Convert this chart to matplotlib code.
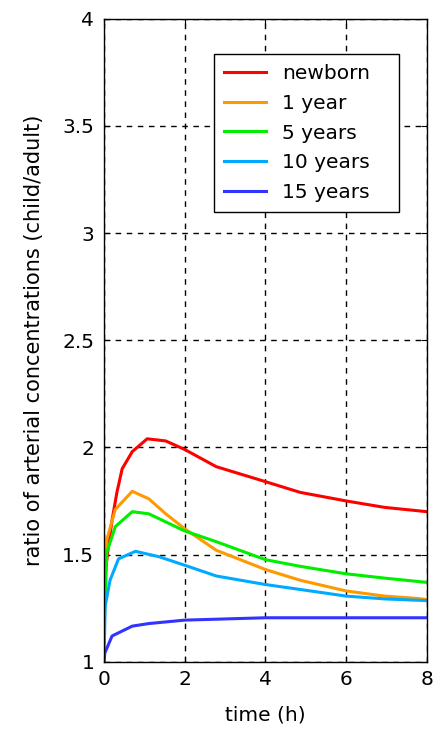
import matplotlib
matplotlib.use("Agg")
import matplotlib.pyplot as plt

plt.rcParams['font.family'] = ['DejaVu Sans']

labels = ["newborn", "1 year", "5 years", "10 years", "15 years"]
colors = ["#ff0000", "#ff9900", "#00ee00", "#00aaff", "#3333ff"]

t_newborn = [0, 0.03, 0.11, 0.2, 0.32, 0.45, 0.7, 1.07, 1.53, 2.0, 2.78, 4.0, 4.86, 6.0, 6.95, 8.0]
r_newborn = [1.2, 1.41, 1.54, 1.66, 1.79, 1.90, 1.98, 2.04, 2.03, 1.99, 1.91, 1.84, 1.79, 1.75, 1.72, 1.70]

t_1y = [0, 0.07, 0.28, 0.7, 1.11, 1.53, 2.0, 2.78, 4.0, 4.86, 6.0, 6.95, 7.78, 8.0]
r_1y = [1.2, 1.57, 1.71, 1.795, 1.76, 1.69, 1.62, 1.52, 1.43, 1.38, 1.33, 1.306, 1.295, 1.29]

t_5y = [0, 0.07, 0.28, 0.7, 1.11, 2.0, 2.78, 4.0, 4.86, 6.0, 6.95, 8.0]
r_5y = [1.15, 1.51, 1.63, 1.70, 1.69, 1.61, 1.56, 1.476, 1.445, 1.41, 1.39, 1.37]

t_10y = [0, 0.03, 0.15, 0.36, 0.78, 1.36, 2.0, 2.78, 4.0, 4.86, 6.0, 6.95, 8.0]
r_10y = [1.0, 1.26, 1.38, 1.48, 1.515, 1.49, 1.45, 1.40, 1.36, 1.337, 1.306, 1.293, 1.285]

t_15y = [0, 0.02, 0.2, 0.7, 1.11, 2.0, 4.0, 8.0]
r_15y = [1.0, 1.04, 1.12, 1.166, 1.178, 1.194, 1.205, 1.205]

series = [(t_newborn, r_newborn), (t_1y, r_1y), (t_5y, r_5y), (t_10y, r_10y), (t_15y, r_15y)]

fig = plt.figure(figsize=(4.36, 7.34), dpi=100)
ax = fig.add_axes([0.2385, 0.0985, 0.7408, 0.876])

for (t, r), lab, c in zip(series, labels, colors):
    ax.plot(t, r, color=c, lw=2.2, label=lab)

ax.set_xlim(0, 8)
ax.set_ylim(1, 4)
ax.set_xticks([0, 2, 4, 6, 8])
ax.set_yticks([1, 1.5, 2, 2.5, 3, 3.5, 4])
ax.set_yticklabels(["1", "1.5", "2", "2.5", "3", "3.5", "4"])
ax.grid(True, color='black', linestyle=(0, (4, 4)), linewidth=1.0)
ax.tick_params(direction='in', top=True, right=True, labelsize=14.5, length=4)
ax.tick_params(axis='x', pad=6)
ax.tick_params(axis='y', pad=7)
for s in ax.spines.values():
    s.set_linewidth(1.0)
ax.set_xlabel("time (h)", fontsize=14.5, labelpad=12)
ax.set_ylabel("ratio of arterial concentrations (child/adult)", fontsize=15, labelpad=13)

leg = ax.legend(loc='upper left', bbox_to_anchor=(0.3406, 0.9456, 0.5728, 0.0), mode='expand',
                borderaxespad=0, fontsize=14.5,
                frameon=True, fancybox=False, edgecolor='black', framealpha=1,
                handlelength=2.1, labelspacing=0.54, borderpad=0.5, handletextpad=0.8)
leg.get_frame().set_linewidth(1.0)

fig.savefig("out.png", dpi=100)
